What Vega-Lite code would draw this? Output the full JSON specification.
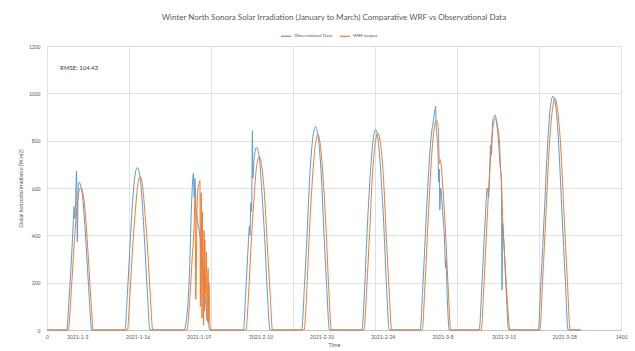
{
  "$schema": "https://vega.github.io/schema/vega-lite/v6.json",
  "width": 574,
  "height": 284,
  "autosize": "none",
  "padding": {"left": 47, "top": 46, "right": 14, "bottom": 21},
  "background": "white",
  "config": {
    "font": "Lato",
    "view": {"stroke": null}
  },
  "title": {
    "text": "Winter North Sonora Solar Irradiation (January to March) Comparative WRF vs Observational Data",
    "fontSize": 8,
    "font": "Lato",
    "fontWeight": "normal",
    "color": "#595959",
    "anchor": "middle",
    "frame": "group",
    "offset": 8
  },
  "datasets": {
    "series": [
      {"series": "Observational Data", "time": 0, "ghi": 0},
      {"series": "Observational Data", "time": 48, "ghi": 0},
      {"series": "Observational Data", "time": 54, "ghi": 138},
      {"series": "Observational Data", "time": 60, "ghi": 313},
      {"series": "Observational Data", "time": 64, "ghi": 452},
      {"series": "Observational Data", "time": 66, "ghi": 521},
      {"series": "Observational Data", "time": 68, "ghi": 470},
      {"series": "Observational Data", "time": 70, "ghi": 560},
      {"series": "Observational Data", "time": 72, "ghi": 672},
      {"series": "Observational Data", "time": 74, "ghi": 373},
      {"series": "Observational Data", "time": 76, "ghi": 600},
      {"series": "Observational Data", "time": 78, "ghi": 625},
      {"series": "Observational Data", "time": 82, "ghi": 612},
      {"series": "Observational Data", "time": 85, "ghi": 588},
      {"series": "Observational Data", "time": 91, "ghi": 475},
      {"series": "Observational Data", "time": 97, "ghi": 313},
      {"series": "Observational Data", "time": 103, "ghi": 138},
      {"series": "Observational Data", "time": 109, "ghi": 0},
      {"series": "Observational Data", "time": 190, "ghi": 0},
      {"series": "Observational Data", "time": 196, "ghi": 151},
      {"series": "Observational Data", "time": 202, "ghi": 343},
      {"series": "Observational Data", "time": 208, "ghi": 521},
      {"series": "Observational Data", "time": 214, "ghi": 645},
      {"series": "Observational Data", "time": 220, "ghi": 686},
      {"series": "Observational Data", "time": 227, "ghi": 645},
      {"series": "Observational Data", "time": 233, "ghi": 521},
      {"series": "Observational Data", "time": 239, "ghi": 343},
      {"series": "Observational Data", "time": 245, "ghi": 151},
      {"series": "Observational Data", "time": 251, "ghi": 0},
      {"series": "Observational Data", "time": 334, "ghi": 0},
      {"series": "Observational Data", "time": 339, "ghi": 30},
      {"series": "Observational Data", "time": 344, "ghi": 120},
      {"series": "Observational Data", "time": 349, "ghi": 320},
      {"series": "Observational Data", "time": 351, "ghi": 450},
      {"series": "Observational Data", "time": 354, "ghi": 590},
      {"series": "Observational Data", "time": 357, "ghi": 662},
      {"series": "Observational Data", "time": 359, "ghi": 560},
      {"series": "Observational Data", "time": 361, "ghi": 640},
      {"series": "Observational Data", "time": 363, "ghi": 520},
      {"series": "Observational Data", "time": 368, "ghi": 450},
      {"series": "Observational Data", "time": 373, "ghi": 400},
      {"series": "Observational Data", "time": 378, "ghi": 300},
      {"series": "Observational Data", "time": 383, "ghi": 200},
      {"series": "Observational Data", "time": 388, "ghi": 100},
      {"series": "Observational Data", "time": 393, "ghi": 30},
      {"series": "Observational Data", "time": 398, "ghi": 0},
      {"series": "Observational Data", "time": 479, "ghi": 0},
      {"series": "Observational Data", "time": 485, "ghi": 170},
      {"series": "Observational Data", "time": 490, "ghi": 330},
      {"series": "Observational Data", "time": 494, "ghi": 440},
      {"series": "Observational Data", "time": 495, "ghi": 400},
      {"series": "Observational Data", "time": 497, "ghi": 536},
      {"series": "Observational Data", "time": 499, "ghi": 500},
      {"series": "Observational Data", "time": 500, "ghi": 663},
      {"series": "Observational Data", "time": 501, "ghi": 842},
      {"series": "Observational Data", "time": 502, "ghi": 640},
      {"series": "Observational Data", "time": 505, "ghi": 725},
      {"series": "Observational Data", "time": 511, "ghi": 771},
      {"series": "Observational Data", "time": 518, "ghi": 725},
      {"series": "Observational Data", "time": 524, "ghi": 586},
      {"series": "Observational Data", "time": 531, "ghi": 386},
      {"series": "Observational Data", "time": 537, "ghi": 170},
      {"series": "Observational Data", "time": 544, "ghi": 0},
      {"series": "Observational Data", "time": 621, "ghi": 0},
      {"series": "Observational Data", "time": 628, "ghi": 189},
      {"series": "Observational Data", "time": 635, "ghi": 430},
      {"series": "Observational Data", "time": 641, "ghi": 653},
      {"series": "Observational Data", "time": 648, "ghi": 807},
      {"series": "Observational Data", "time": 655, "ghi": 859},
      {"series": "Observational Data", "time": 662, "ghi": 807},
      {"series": "Observational Data", "time": 669, "ghi": 653},
      {"series": "Observational Data", "time": 675, "ghi": 430},
      {"series": "Observational Data", "time": 682, "ghi": 189},
      {"series": "Observational Data", "time": 689, "ghi": 0},
      {"series": "Observational Data", "time": 768, "ghi": 0},
      {"series": "Observational Data", "time": 775, "ghi": 186},
      {"series": "Observational Data", "time": 781, "ghi": 424},
      {"series": "Observational Data", "time": 788, "ghi": 644},
      {"series": "Observational Data", "time": 795, "ghi": 796},
      {"series": "Observational Data", "time": 801, "ghi": 847},
      {"series": "Observational Data", "time": 808, "ghi": 796},
      {"series": "Observational Data", "time": 815, "ghi": 644},
      {"series": "Observational Data", "time": 822, "ghi": 424},
      {"series": "Observational Data", "time": 828, "ghi": 186},
      {"series": "Observational Data", "time": 835, "ghi": 0},
      {"series": "Observational Data", "time": 910, "ghi": 0},
      {"series": "Observational Data", "time": 917, "ghi": 195},
      {"series": "Observational Data", "time": 924, "ghi": 444},
      {"series": "Observational Data", "time": 931, "ghi": 674},
      {"series": "Observational Data", "time": 938, "ghi": 834},
      {"series": "Observational Data", "time": 942, "ghi": 880},
      {"series": "Observational Data", "time": 945, "ghi": 916},
      {"series": "Observational Data", "time": 948, "ghi": 946},
      {"series": "Observational Data", "time": 949, "ghi": 870},
      {"series": "Observational Data", "time": 952, "ghi": 800},
      {"series": "Observational Data", "time": 954, "ghi": 739},
      {"series": "Observational Data", "time": 955, "ghi": 627},
      {"series": "Observational Data", "time": 957, "ghi": 680},
      {"series": "Observational Data", "time": 958, "ghi": 507},
      {"series": "Observational Data", "time": 960, "ghi": 600},
      {"series": "Observational Data", "time": 965, "ghi": 500},
      {"series": "Observational Data", "time": 970, "ghi": 360},
      {"series": "Observational Data", "time": 972, "ghi": 262},
      {"series": "Observational Data", "time": 973, "ghi": 300},
      {"series": "Observational Data", "time": 976, "ghi": 150},
      {"series": "Observational Data", "time": 981, "ghi": 0},
      {"series": "Observational Data", "time": 1054, "ghi": 0},
      {"series": "Observational Data", "time": 1061, "ghi": 200},
      {"series": "Observational Data", "time": 1068, "ghi": 440},
      {"series": "Observational Data", "time": 1074, "ghi": 600},
      {"series": "Observational Data", "time": 1077, "ghi": 560},
      {"series": "Observational Data", "time": 1079, "ghi": 627},
      {"series": "Observational Data", "time": 1082, "ghi": 782},
      {"series": "Observational Data", "time": 1084, "ghi": 740},
      {"series": "Observational Data", "time": 1087, "ghi": 880},
      {"series": "Observational Data", "time": 1090, "ghi": 901},
      {"series": "Observational Data", "time": 1093, "ghi": 908},
      {"series": "Observational Data", "time": 1097, "ghi": 870},
      {"series": "Observational Data", "time": 1100, "ghi": 824},
      {"series": "Observational Data", "time": 1105, "ghi": 700},
      {"series": "Observational Data", "time": 1108, "ghi": 640},
      {"series": "Observational Data", "time": 1110, "ghi": 169},
      {"series": "Observational Data", "time": 1111, "ghi": 450},
      {"series": "Observational Data", "time": 1114, "ghi": 380},
      {"series": "Observational Data", "time": 1119, "ghi": 200},
      {"series": "Observational Data", "time": 1126, "ghi": 0},
      {"series": "Observational Data", "time": 1198, "ghi": 0},
      {"series": "Observational Data", "time": 1205, "ghi": 217},
      {"series": "Observational Data", "time": 1213, "ghi": 494},
      {"series": "Observational Data", "time": 1220, "ghi": 751},
      {"series": "Observational Data", "time": 1227, "ghi": 929},
      {"series": "Observational Data", "time": 1234, "ghi": 988},
      {"series": "Observational Data", "time": 1242, "ghi": 929},
      {"series": "Observational Data", "time": 1249, "ghi": 751},
      {"series": "Observational Data", "time": 1256, "ghi": 494},
      {"series": "Observational Data", "time": 1264, "ghi": 217},
      {"series": "Observational Data", "time": 1271, "ghi": 0},
      {"series": "Observational Data", "time": 1300, "ghi": 0},

      {"series": "WRF output", "time": 0, "ghi": 0},
      {"series": "WRF output", "time": 52, "ghi": 0},
      {"series": "WRF output", "time": 58, "ghi": 132},
      {"series": "WRF output", "time": 64, "ghi": 301},
      {"series": "WRF output", "time": 70, "ghi": 457},
      {"series": "WRF output", "time": 76, "ghi": 565},
      {"series": "WRF output", "time": 82, "ghi": 601},
      {"series": "WRF output", "time": 89, "ghi": 565},
      {"series": "WRF output", "time": 95, "ghi": 457},
      {"series": "WRF output", "time": 101, "ghi": 301},
      {"series": "WRF output", "time": 107, "ghi": 132},
      {"series": "WRF output", "time": 113, "ghi": 0},
      {"series": "WRF output", "time": 196, "ghi": 0},
      {"series": "WRF output", "time": 202, "ghi": 143},
      {"series": "WRF output", "time": 208, "ghi": 324},
      {"series": "WRF output", "time": 215, "ghi": 492},
      {"series": "WRF output", "time": 221, "ghi": 609},
      {"series": "WRF output", "time": 227, "ghi": 648},
      {"series": "WRF output", "time": 233, "ghi": 609},
      {"series": "WRF output", "time": 239, "ghi": 492},
      {"series": "WRF output", "time": 246, "ghi": 324},
      {"series": "WRF output", "time": 252, "ghi": 143},
      {"series": "WRF output", "time": 258, "ghi": 0},
      {"series": "WRF output", "time": 341, "ghi": 0},
      {"series": "WRF output", "time": 349, "ghi": 150},
      {"series": "WRF output", "time": 354, "ghi": 300},
      {"series": "WRF output", "time": 359, "ghi": 450},
      {"series": "WRF output", "time": 361, "ghi": 560},
      {"series": "WRF output", "time": 363, "ghi": 130},
      {"series": "WRF output", "time": 366, "ghi": 520},
      {"series": "WRF output", "time": 368, "ghi": 600},
      {"series": "WRF output", "time": 371, "ghi": 620},
      {"series": "WRF output", "time": 373, "ghi": 632},
      {"series": "WRF output", "time": 374, "ghi": 100},
      {"series": "WRF output", "time": 376, "ghi": 580},
      {"series": "WRF output", "time": 378, "ghi": 50},
      {"series": "WRF output", "time": 379, "ghi": 500},
      {"series": "WRF output", "time": 380, "ghi": 300},
      {"series": "WRF output", "time": 382, "ghi": 20},
      {"series": "WRF output", "time": 383, "ghi": 420},
      {"series": "WRF output", "time": 384, "ghi": 80},
      {"series": "WRF output", "time": 385, "ghi": 380},
      {"series": "WRF output", "time": 386, "ghi": 150},
      {"series": "WRF output", "time": 389, "ghi": 330},
      {"series": "WRF output", "time": 390, "ghi": 40},
      {"series": "WRF output", "time": 393, "ghi": 260},
      {"series": "WRF output", "time": 394, "ghi": 30},
      {"series": "WRF output", "time": 395, "ghi": 200},
      {"series": "WRF output", "time": 398, "ghi": 0},
      {"series": "WRF output", "time": 485, "ghi": 0},
      {"series": "WRF output", "time": 492, "ghi": 161},
      {"series": "WRF output", "time": 498, "ghi": 367},
      {"series": "WRF output", "time": 505, "ghi": 557},
      {"series": "WRF output", "time": 511, "ghi": 689},
      {"series": "WRF output", "time": 518, "ghi": 733},
      {"series": "WRF output", "time": 524, "ghi": 689},
      {"series": "WRF output", "time": 531, "ghi": 557},
      {"series": "WRF output", "time": 537, "ghi": 367},
      {"series": "WRF output", "time": 544, "ghi": 161},
      {"series": "WRF output", "time": 550, "ghi": 0},
      {"series": "WRF output", "time": 627, "ghi": 0},
      {"series": "WRF output", "time": 634, "ghi": 182},
      {"series": "WRF output", "time": 640, "ghi": 413},
      {"series": "WRF output", "time": 647, "ghi": 628},
      {"series": "WRF output", "time": 654, "ghi": 776},
      {"series": "WRF output", "time": 661, "ghi": 826},
      {"series": "WRF output", "time": 667, "ghi": 776},
      {"series": "WRF output", "time": 674, "ghi": 628},
      {"series": "WRF output", "time": 681, "ghi": 413},
      {"series": "WRF output", "time": 687, "ghi": 182},
      {"series": "WRF output", "time": 694, "ghi": 0},
      {"series": "WRF output", "time": 773, "ghi": 0},
      {"series": "WRF output", "time": 780, "ghi": 183},
      {"series": "WRF output", "time": 787, "ghi": 416},
      {"series": "WRF output", "time": 793, "ghi": 632},
      {"series": "WRF output", "time": 800, "ghi": 781},
      {"series": "WRF output", "time": 807, "ghi": 831},
      {"series": "WRF output", "time": 814, "ghi": 781},
      {"series": "WRF output", "time": 821, "ghi": 632},
      {"series": "WRF output", "time": 827, "ghi": 416},
      {"series": "WRF output", "time": 834, "ghi": 183},
      {"series": "WRF output", "time": 841, "ghi": 0},
      {"series": "WRF output", "time": 915, "ghi": 0},
      {"series": "WRF output", "time": 922, "ghi": 195},
      {"series": "WRF output", "time": 929, "ghi": 444},
      {"series": "WRF output", "time": 936, "ghi": 674},
      {"series": "WRF output", "time": 943, "ghi": 834},
      {"series": "WRF output", "time": 950, "ghi": 887},
      {"series": "WRF output", "time": 954, "ghi": 860},
      {"series": "WRF output", "time": 957, "ghi": 704},
      {"series": "WRF output", "time": 959, "ghi": 720},
      {"series": "WRF output", "time": 964, "ghi": 640},
      {"series": "WRF output", "time": 971, "ghi": 444},
      {"series": "WRF output", "time": 978, "ghi": 195},
      {"series": "WRF output", "time": 985, "ghi": 0},
      {"series": "WRF output", "time": 1059, "ghi": 0},
      {"series": "WRF output", "time": 1066, "ghi": 200},
      {"series": "WRF output", "time": 1073, "ghi": 450},
      {"series": "WRF output", "time": 1080, "ghi": 680},
      {"series": "WRF output", "time": 1087, "ghi": 850},
      {"series": "WRF output", "time": 1094, "ghi": 894},
      {"series": "WRF output", "time": 1099, "ghi": 860},
      {"series": "WRF output", "time": 1104, "ghi": 780},
      {"series": "WRF output", "time": 1106, "ghi": 683},
      {"series": "WRF output", "time": 1108, "ghi": 640},
      {"series": "WRF output", "time": 1112, "ghi": 450},
      {"series": "WRF output", "time": 1118, "ghi": 260},
      {"series": "WRF output", "time": 1124, "ghi": 90},
      {"series": "WRF output", "time": 1129, "ghi": 0},
      {"series": "WRF output", "time": 1202, "ghi": 0},
      {"series": "WRF output", "time": 1209, "ghi": 215},
      {"series": "WRF output", "time": 1217, "ghi": 490},
      {"series": "WRF output", "time": 1224, "ghi": 744},
      {"series": "WRF output", "time": 1232, "ghi": 920},
      {"series": "WRF output", "time": 1239, "ghi": 979},
      {"series": "WRF output", "time": 1246, "ghi": 920},
      {"series": "WRF output", "time": 1254, "ghi": 744},
      {"series": "WRF output", "time": 1261, "ghi": 490},
      {"series": "WRF output", "time": 1269, "ghi": 215},
      {"series": "WRF output", "time": 1276, "ghi": 0},
      {"series": "WRF output", "time": 1304, "ghi": 0}
    ],
    "days": [
      {"time": 75, "ghi": 0, "label": "2021-1-3"},
      {"time": 222, "ghi": 0, "label": "2021-1-16"},
      {"time": 371, "ghi": 0, "label": "2021-1-19"},
      {"time": 522, "ghi": 0, "label": "2021-2-10"},
      {"time": 671, "ghi": 0, "label": "2021-2-20"},
      {"time": 820, "ghi": 0, "label": "2021-2-24"},
      {"time": 966, "ghi": 0, "label": "2021-3-8"},
      {"time": 1115, "ghi": 0, "label": "2021-3-15"},
      {"time": 1263, "ghi": 0, "label": "2021-3-28"}
    ],
    "notes": [
      {"time": 32, "ghi": 1107, "label": "RMSE: 104.43"}
    ]
  },
  "encoding": {
    "x": {
      "field": "time",
      "type": "quantitative",
      "scale": {"domain": [0, 1400], "nice": false},
      "axis": {
        "title": "Time",
        "titleFont": "Lato",
        "titleFontSize": 5.5,
        "titleFontWeight": "normal",
        "titleColor": "#595959",
        "titlePadding": 3,
        "values": [0, 200, 400, 600, 800, 1000, 1200, 1400],
        "labelExpr": "datum.value == 0 || datum.value == 1400 ? datum.label : ''",
        "format": "d",
        "labelFont": "Lato",
        "labelFontSize": 5,
        "labelColor": "#595959",
        "labelPadding": 4,
        "labelFlush": false,
        "labelOverlap": false,
        "labelBound": false,
        "ticks": false,
        "domain": true,
        "domainColor": "#bfbfbf",
        "domainWidth": 0.8,
        "grid": true,
        "gridColor": "#d9d9d9",
        "gridWidth": 0.8
      }
    },
    "y": {
      "field": "ghi",
      "type": "quantitative",
      "scale": {"domain": [0, 1200], "nice": false},
      "axis": {
        "title": "Global horizontal irradiance (W/m2)",
        "titleFont": "Lato",
        "titleFontSize": 5,
        "titleFontWeight": "normal",
        "titleColor": "#595959",
        "titlePadding": 5,
        "values": [0, 200, 400, 600, 800, 1000, 1200],
        "format": "d",
        "labelFont": "Lato",
        "labelFontSize": 5,
        "labelColor": "#595959",
        "labelPadding": 7,
        "ticks": false,
        "domain": false,
        "grid": true,
        "gridColor": "#d9d9d9",
        "gridWidth": 0.8
      }
    }
  },
  "layer": [
    {
      "data": {"name": "series"},
      "mark": {"type": "line", "strokeWidth": 1, "interpolate": "monotone"},
      "encoding": {
        "color": {
          "field": "series",
          "type": "nominal",
          "scale": {"domain": ["Observational Data", "WRF output"], "range": ["#5B9BD5", "#ED7D31"]},
          "legend": {
            "title": null,
            "orient": "none",
            "direction": "horizontal",
            "legendX": 233,
            "legendY": -16,
            "symbolType": "stroke",
            "symbolSize": 100,
            "symbolStrokeWidth": 1.2,
            "labelFont": "Lato",
            "labelFontSize": 4.5,
            "labelColor": "#595959",
            "labelOffset": 2,
            "columnPadding": 4
          }
        }
      }
    },
    {
      "data": {"name": "days"},
      "mark": {"type": "text", "align": "center", "baseline": "middle", "dy": 7, "font": "Lato", "fontSize": 5, "color": "#595959"},
      "encoding": {
        "text": {"field": "label"}
      }
    },
    {
      "data": {"name": "notes"},
      "mark": {"type": "text", "align": "left", "baseline": "middle", "font": "Lato", "fontSize": 6, "color": "#404040"},
      "encoding": {
        "text": {"field": "label"}
      }
    }
  ]
}
